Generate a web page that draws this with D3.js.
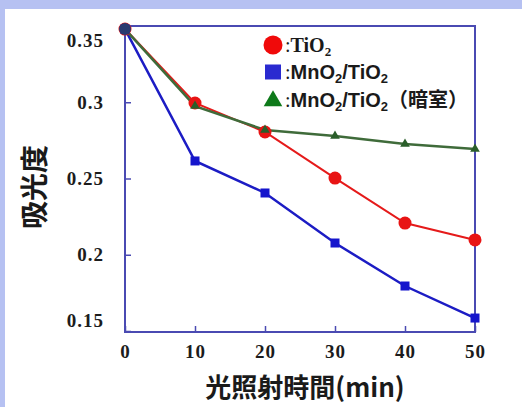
<!DOCTYPE html>
<html>
<head>
<meta charset="utf-8">
<script src="https://cdn.jsdelivr.net/npm/d3@7"></script>
<style>
  html, body { margin: 0; padding: 0; background: #b6c1f2; }
  svg { display: block; }
</style>
</head>
<body>
<svg id="chart"></svg>
<script>
// minutes of irradiation
var times = [0, 10, 20, 30, 40, 50];
// absorbance
var tio2 = [0.348, 0.2995, 0.2805, 0.2503, 0.2208, 0.2097];
var mno2Tio2 = [0.348, 0.2615, 0.2405, 0.2077, 0.1795, 0.1585];
var mno2Dark = [0.348, 0.2975, 0.2818, 0.2779, 0.2726, 0.2693];

var xTicks = [0, 10, 20, 30, 40, 50];
var yTicks = [0.15, 0.2, 0.25, 0.3, 0.35];
var yTickLabels = ["0.15", "0.2", "0.25", "0.3", "0.35"];

var legendLabels = ["TiO2", "MnO2/TiO2", "MnO2/TiO2（暗室）"];
var xTitle = "光照射時間(min)";
var yTitle = "吸光度";

var width = 522, height = 407;
var svg = d3.select("#chart").attr("width", width).attr("height", height);

// white panel inside the lavender border
svg.append("rect")
  .attr("x", 5).attr("y", 9)
  .attr("width", width - 5).attr("height", height - 9)
  .attr("fill", "#ffffff");

// plot box (note: "top" is a reserved window prop, so use other names)
var plotL = 125, plotR = 475, plotT = 26, plotB = 332;

var x = d3.scaleLinear().domain([0, 50]).range([plotL, plotR]);
var y = d3.scaleLinear().domain([0.15, 0.35]).range([plotB - 1, plotT]);

var frameColor = "#4a4ab2";
var serif = "'Liberation Serif', 'Times New Roman', serif";
var sans = "'Liberation Sans', Arial, 'Noto Sans CJK JP', sans-serif";
var cjk = "'Noto Sans CJK JP', 'Noto Sans CJK SC', sans-serif";

// axes, ticks pointing inwards
var xAxis = d3.axisBottom(x).tickValues(xTicks).tickSize(-6).tickPadding(13)
  .tickFormat(d3.format("d"));
var yAxis = d3.axisLeft(y).tickValues(yTicks).tickSize(-6).tickPadding(21)
  .tickFormat((d, i) => yTickLabels[i]);

var gx = svg.append("g").attr("transform", `translate(0, ${plotB})`).call(xAxis);
var gy = svg.append("g").attr("transform", `translate(${plotL}, 0)`).call(yAxis);

[gx, gy].forEach(g => {
  g.select(".domain").remove();
  g.selectAll(".tick line").attr("stroke", frameColor).attr("stroke-width", 1.5);
  g.selectAll(".tick text")
    .attr("fill", "#1c1c1c")
    .style("font-family", serif)
    .style("font-weight", "bold")
    .style("font-size", "19px")
    .style("letter-spacing", "1px");
});
// the end labels sit a bit inside the frame in the original
gy.selectAll(".tick text").attr("dy", d => d === 0.35 ? "1.1em" : d === 0.15 ? "-0.25em" : "0.32em");

// frame
svg.append("rect")
  .attr("x", plotL).attr("y", plotT)
  .attr("width", plotR - plotL).attr("height", plotB - plotT)
  .attr("fill", "none")
  .attr("stroke", frameColor)
  .attr("stroke-width", 2);

// series
var line = d3.line().x((d, i) => x(times[i])).y(d => y(d));

svg.append("path").datum(tio2)
  .attr("d", line).attr("fill", "none")
  .attr("stroke", "#e51a1a").attr("stroke-width", 2);

svg.append("path").datum(mno2Tio2)
  .attr("d", line).attr("fill", "none")
  .attr("stroke", "#1c1cc4").attr("stroke-width", 2.5);

svg.append("path").datum(mno2Dark)
  .attr("d", line).attr("fill", "none")
  .attr("stroke", "#3f6b3a").attr("stroke-width", 2.5);

svg.selectAll(".m-red").data(tio2).enter().append("circle")
  .attr("class", "m-red")
  .attr("cx", (d, i) => x(times[i])).attr("cy", d => y(d))
  .attr("r", 6.5).attr("fill", "#e81414");

svg.selectAll(".m-blue").data(mno2Tio2).enter().append("rect")
  .attr("class", "m-blue")
  .attr("x", (d, i) => x(times[i]) - 4.5).attr("y", d => y(d) - 4.5)
  .attr("width", 9).attr("height", 9).attr("fill", "#1515cc");

var tri = d3.symbol().type(d3.symbolTriangle).size(40);
svg.selectAll(".m-green").data(mno2Dark).enter().append("path")
  .attr("class", "m-green")
  .attr("d", tri)
  .attr("transform", (d, i) => `translate(${x(times[i])}, ${y(d)})`)
  .attr("fill", "#2a5e2a");

// the shared start point looks dark navy in the picture
svg.append("circle")
  .attr("cx", x(times[0])).attr("cy", y(tio2[0]))
  .attr("r", 6).attr("fill", "#2a3a70");

// legend
var legendRows = [45, 72, 100];
var lg = svg.append("g");

lg.append("circle").attr("cx", 273).attr("cy", legendRows[0]).attr("r", 9.5).attr("fill", "#f00a0a");
lg.append("rect").attr("x", 265).attr("y", legendRows[1] - 7.5).attr("width", 16).attr("height", 15).attr("fill", "#2a2ad0");
lg.append("path")
  .attr("d", d3.symbol().type(d3.symbolTriangle).size(150))
  .attr("transform", `translate(273, ${legendRows[2] + 1})`)
  .attr("fill", "#0e7a1a");

function addLabel(row, txt, fam) {
  var t = lg.append("text")
    .attr("x", 285).attr("y", legendRows[row] + 7)
    .attr("fill", "#1a1a1a")
    .style("font-family", fam)
    .style("font-weight", "bold")
    .style("font-size", "20px");
  t.append("tspan").text(":").style("font-family", serif).style("font-weight", "normal");
  // split on the digit 2 so it becomes a subscript
  var parts = txt.split("2");
  parts.forEach((p, i) => {
    if (p.length) {
      t.append("tspan").text(p)
        .attr("dy", i > 0 ? -4 : null)
        .style("font-family", /[\u3000-\u9fff\uff00-\uffef]/.test(p) ? cjk : null);
    }
    if (i < parts.length - 1) {
      t.append("tspan").text("2").attr("dy", 4).style("font-size", "13px");
    }
  });
}
addLabel(0, legendLabels[0], serif);
addLabel(1, legendLabels[1], sans);
addLabel(2, legendLabels[2], sans);

// axis titles
svg.append("text")
  .attr("x", 305).attr("y", 397)
  .attr("text-anchor", "middle")
  .attr("fill", "#1a1a1a")
  .style("font-family", cjk)
  .style("font-weight", "bold")
  .style("font-size", "26px")
  .text(xTitle);

svg.append("text")
  .attr("transform", "translate(45, 187) rotate(-90)")
  .attr("text-anchor", "middle")
  .attr("fill", "#1a1a1a")
  .style("font-family", cjk)
  .style("font-weight", "bold")
  .style("font-size", "28px")
  .text(yTitle);
</script>
</body>
</html>
